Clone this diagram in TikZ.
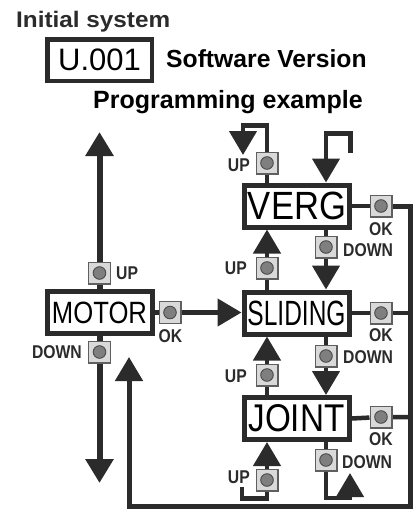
\documentclass[tikz,border=0pt]{standalone}
\usepackage{fontspec}
\setmainfont{Liberation Sans}
\usetikzlibrary{arrows.meta,backgrounds,calc}
\definecolor{ink}{HTML}{2B2B2B}
\definecolor{keyface}{HTML}{D9D9D9}
\definecolor{keyrim}{HTML}{5F5F5F}
\definecolor{keydot}{HTML}{7F7F7F}

% small bold key captions, slightly condensed
\newcommand\keycap[1]{\scalebox{0.85}[1]{\fontsize{18.5pt}{18.5pt}\selectfont\bfseries #1}}
% large state names fitted to an exact width and cap height
\newcommand\stagename[3]{\resizebox{#1}{#2}{#3}}

\begin{document}
\begin{tikzpicture}[x=1pt,y=-1pt,
  stagebox/.style={draw=ink, line width=5pt, fill=white, minimum width=105pt,
    minimum height=42pt, inner sep=0pt},
  btn/.style={draw=keyrim, line width=1.2pt, fill=keyface, minimum size=21.8pt, inner sep=0pt,
    path picture={\filldraw[fill=keydot, draw=ink!85, line width=0.9pt]
      (path picture bounding box.center) circle (6.3pt);}},
  caption/.style={inner sep=0pt, text=ink},
  wire/.style={draw=ink, line width=4.5pt},
  heavy/.style={draw=ink, line width=6pt},
  pointed/.style={-{Triangle[width=27pt,length=24pt]}},
]
\useasboundingbox (0,0) rectangle (418,512);

% headings
\node[anchor=base west, inner sep=0pt, text=ink] (init) at (16,27)
  {\scalebox{1.08}[1]{\fontsize{22.5pt}{22.5pt}\selectfont\bfseries Initial system}};
\node[draw=ink, line width=4.5pt, minimum width=104.5pt, minimum height=41.5pt, inner sep=0pt]
  (ver) at (99.5,60) {\fontsize{31pt}{31pt}\selectfont U.001};
\node[anchor=base west, inner sep=0pt, text=black] (swv) at (166,67)
  {\fontsize{24.7pt}{24.7pt}\selectfont\bfseries Software Version};
\node[anchor=base west, inner sep=0pt, text=black] (prog) at (93,108)
  {\fontsize{25pt}{25pt}\selectfont\bfseries Programming example};

% menu states
\node[stagebox] (motor) at (99.5,312.5) {\stagename{95pt}{21.5pt}{MOTOR}};
\node[stagebox] (verg)  at (297,206)    {\stagename{98pt}{27.5pt}{VERG}};
\node[stagebox] (slid)  at (296.5,313)  {\stagename{98pt}{24.5pt}{SLIDING}};
\node[stagebox] (joint) at (296.5,418.5){\stagename{96pt}{27pt}{JOINT}};

% push buttons
\node[btn] (mup)   at (99.5,273) {};
\node[btn] (mdown) at (99.5,352) {};
\node[btn] (mok)   at (170,312.5) {};
\node[btn] (vup)   at (267,163) {};
\node[btn] (vok)   at (381,206) {};
\node[btn] (vdown) at (326,247) {};
\node[btn] (sup)   at (267,268) {};
\node[btn] (sok)   at (381,313) {};
\node[btn] (sdown) at (326,356) {};
\node[btn] (jupa)  at (267,375) {};
\node[btn] (jok)   at (381,417) {};
\node[btn] (jdown) at (326,460) {};
\node[btn] (jupb)  at (267,480) {};

% button captions
\node[caption, anchor=west] (lmup)   at (116,273.5) {\keycap{UP}};
\node[caption, anchor=east] (lmdown) at (82,352)    {\keycap{DOWN}};
\node[caption]              (lmok)   at (170.5,336) {\keycap{OK}};
\node[caption, anchor=east] (lvup)   at (250,165)   {\keycap{UP}};
\node[caption]              (lvok)   at (381,229)   {\keycap{OK}};
\node[caption, anchor=west] (lvdown) at (343,250)   {\keycap{DOWN}};
\node[caption, anchor=east] (lsup)   at (247,268)   {\keycap{UP}};
\node[caption]              (lsok)   at (381,335)   {\keycap{OK}};
\node[caption, anchor=west] (lsdown) at (343,357)   {\keycap{DOWN}};
\node[caption, anchor=east] (ljupa)  at (247,376)   {\keycap{UP}};
\node[caption]              (ljok)   at (381,439)   {\keycap{OK}};
\node[caption, anchor=west] (ljdown) at (342,462)   {\keycap{DOWN}};
\node[caption, anchor=east] (ljupb)  at (250,477)   {\keycap{UP}};

% free ends and bends of the connectors
\coordinate (mtop) at (99.5,132);
\coordinate (mbot) at (99.5,483);
\coordinate (busTop) at (410,206);
\coordinate (busBot) at (410,506);
\coordinate (retCorner) at (129,506);
\coordinate (retTip) at (129,357);
\coordinate (rl1) at (350.5,153);
\coordinate (rl2) at (350.5,133.5);
\coordinate (ul1) at (267,125.5);
\coordinate (ul2) at (243,125.5);
\coordinate (ul3) at (243,155);
\coordinate (dl1) at (326,498);
\coordinate (dl2) at (350,498);
\coordinate (dl3) at (350,473);
\coordinate (hk1) at (267,498.5);
\coordinate (hk2) at (242,498.5);
\coordinate (hk3) at (242,487);

\begin{scope}[on background layer]
  % MOTOR
  \draw[heavy, pointed] (motor.north) -- (mtop);
  \draw[heavy, pointed] (motor.south) -- (mbot);
  \draw[wire, pointed] (motor.east) -- (motor.east -| slid.west);
  % OK bus and return to MOTOR
  \draw[wire] (verg.east) -- (vok);
  \draw[wire, line width=5pt, pointed] (vok) -- (busTop) -- (busBot) -- (retCorner) -- (retTip);
  \draw[wire] (slid.east) -- (sok) -- (sok -| busTop);
  \draw[wire] (joint.east) -- (jok) -- (jok -| busTop);
  % VERG loops
  \draw[wire, pointed] (rl1) -- (rl2) -- (rl2 -| vdown) -- (verg.north -| vdown);
  \draw[wire, pointed] (verg.north -| vup) -- (ul1) -- (ul2) -- (ul3);
  % up / down between the states
  \draw[wire, pointed] (verg.south -| vdown) -- (slid.north -| vdown);
  \draw[wire, pointed] (slid.north -| sup) -- (verg.south -| sup);
  \draw[wire, pointed] (slid.south -| sdown) -- (joint.north -| sdown);
  \draw[wire, pointed] (joint.north -| jupa) -- (slid.south -| jupa);
  % JOINT loops
  \draw[wire, pointed] (joint.south -| jdown) -- (dl1) -- (dl2) -- (dl3);
  \draw[wire, pointed] (jupb) -- (joint.south -| jupb);
  \draw[wire] (jupb) -- (hk1) -- (hk2) -- (hk3);
\end{scope}
\end{tikzpicture}
\end{document}
